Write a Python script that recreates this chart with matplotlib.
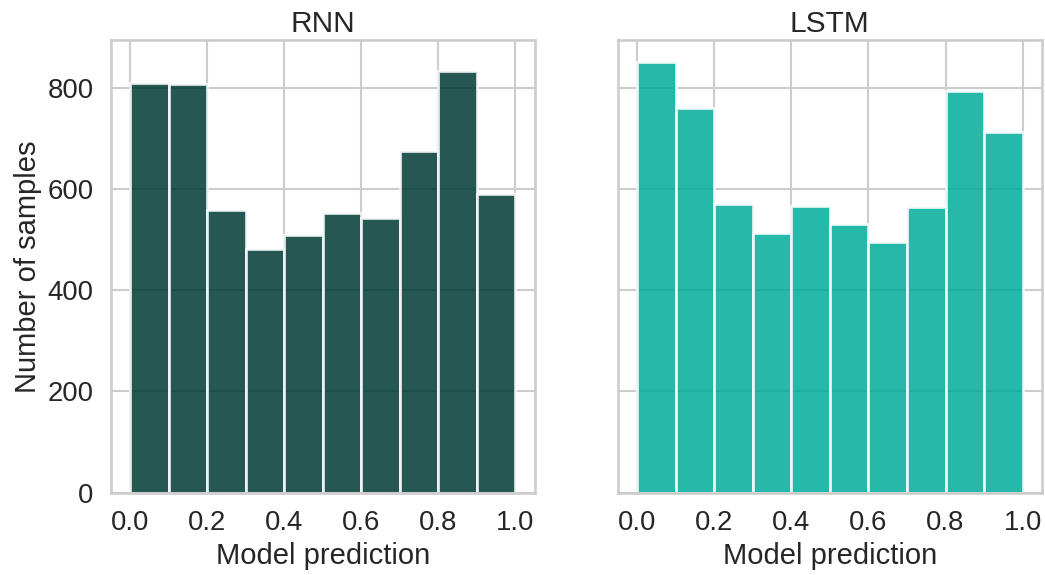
import numpy as np
import matplotlib
matplotlib.use("Agg")
import matplotlib.pyplot as plt
import seaborn as sns

# histogram bins of model output (10 equal bins on [0, 1])
bin_edges = np.linspace(0.0, 1.0, 11)
rnn_counts = [810, 808, 559, 481, 509, 552, 543, 674, 832, 589]
lstm_counts = [851, 760, 570, 513, 567, 531, 496, 564, 793, 713]

models = ["RNN", "LSTM"]
colors = ["#003a34", "#00ad9b"]

sns.set_theme(style="whitegrid", context="talk")
plt.rcParams["font.family"] = ["Liberation Sans", "DejaVu Sans"]

fig, axes = plt.subplots(1, 2, figsize=(10.45, 5.75), dpi=100, sharey=True)
fig.subplots_adjust(left=0.106, right=0.997, bottom=0.143, top=0.930, wspace=0.196)

for ax, name, counts, c in zip(axes, models, [rnn_counts, lstm_counts], colors):
    ax.bar(bin_edges[:-1], counts, width=np.diff(bin_edges), align="edge",
           color=c, alpha=0.85, edgecolor="white", linewidth=2)
    ax.set_title(name, fontsize=21.5)
    ax.set_xlabel("Model prediction", fontsize=21)
    ax.set_xticks(np.arange(0, 1.01, 0.2))
    ax.tick_params(labelsize=19.8)

axes[0].set_ylabel("Number of samples", fontsize=21)
axes[0].set_yticks([0, 200, 400, 600, 800])

fig.savefig("out.png", dpi=100)
